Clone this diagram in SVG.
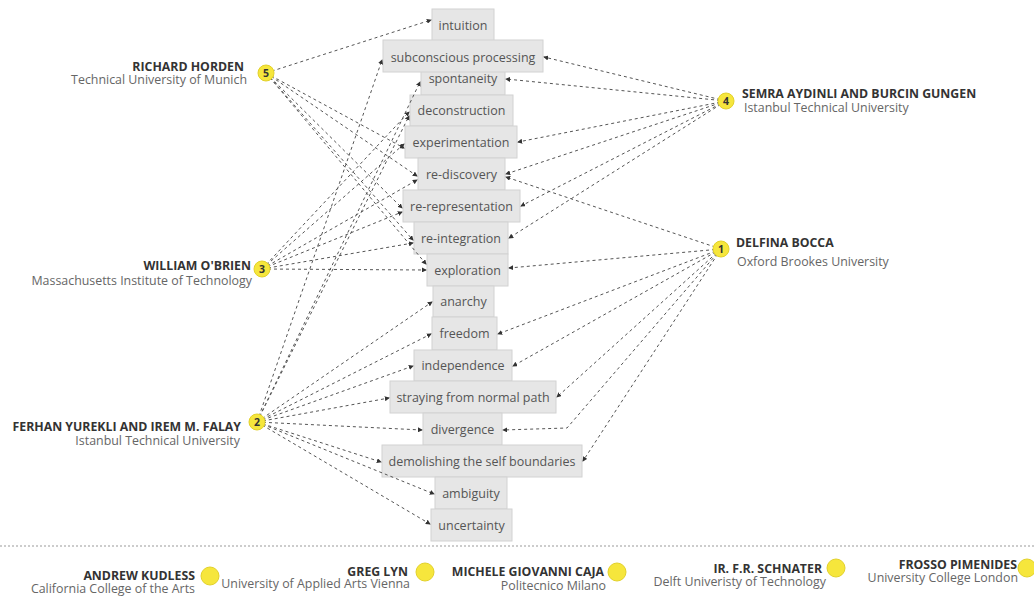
<svg xmlns="http://www.w3.org/2000/svg" width="1034" height="597" viewBox="0 0 1034 597">
  <style>
    .box rect { fill: #e6e6e6; stroke: #d2d2d2; stroke-width: 1; }
    .box text { font-family: "Open Sans", "Liberation Sans", sans-serif; font-size: 12.5px; fill: #555; text-anchor: middle; }
    .link { fill: none; stroke: #555; stroke-width: 1; stroke-dasharray: 3 3; marker-end: url(#arrow); }
    .dot { fill: #f6e63c; stroke: #e2d12a; stroke-width: 1; }
    .num { font-family: "Open Sans", "Liberation Sans", sans-serif; font-size: 10.5px; font-weight: bold; fill: #333; text-anchor: middle; }
    .name { font-family: "Open Sans", "Liberation Sans", sans-serif; font-size: 12.3px; font-weight: bold; fill: #333; }
    .aff { font-family: "Open Sans", "Liberation Sans", sans-serif; font-size: 12.4px; fill: #666; }
    .r { text-anchor: end; }
  </style>
  <defs>
    <marker id="arrow" viewBox="0 0 6 6" refX="5" refY="3" markerWidth="5" markerHeight="5" markerUnits="userSpaceOnUse" orient="auto">
      <path d="M0,0 L6,3 L0,6 z" fill="#333"/>
    </marker>
  </defs>

  <rect width="1034" height="597" fill="#fff"/>

  <!-- concept boxes -->
  <g id="b-intuition" class="box"><rect x="432" y="9" width="62" height="32"/><text x="463" y="29.5">intuition</text></g>
  <g id="b-spontaneity" class="box"><rect x="421" y="62" width="84" height="33"/><text x="463" y="83">spontaneity</text></g>
  <g id="b-subconscious" class="box"><rect x="383" y="40" width="160" height="32"/><text x="463" y="61.5">subconscious processing</text></g>
  <g id="b-deconstruction" class="box"><rect x="410" y="95" width="103" height="31"/><text x="461.5" y="115">deconstruction</text></g>
  <g id="b-experimentation" class="box"><rect x="405" y="126" width="112" height="32"/><text x="461" y="146.5">experimentation</text></g>
  <g id="b-rediscovery" class="box"><rect x="418" y="158" width="87" height="32"/><text x="461.5" y="178.5">re-discovery</text></g>
  <g id="b-rerepresentation" class="box"><rect x="403" y="190" width="117" height="32"/><text x="461.5" y="210.5">re-representation</text></g>
  <g id="b-reintegration" class="box"><rect x="414" y="222" width="94" height="32"/><text x="461" y="242.5">re-integration</text></g>
  <g id="b-exploration" class="box"><rect x="427" y="254" width="81" height="32"/><text x="467.5" y="274.5">exploration</text></g>
  <g id="b-anarchy" class="box"><rect x="433" y="286" width="61" height="31"/><text x="463.5" y="306">anarchy</text></g>
  <g id="b-freedom" class="box"><rect x="432" y="317" width="65" height="33"/><text x="464.5" y="338">freedom</text></g>
  <g id="b-independence" class="box"><rect x="414" y="350" width="98" height="31"/><text x="463" y="370">independence</text></g>
  <g id="b-straying" class="box"><rect x="390" y="381" width="166" height="32"/><text x="473" y="401.5">straying from normal path</text></g>
  <g id="b-divergence" class="box"><rect x="423" y="413" width="79" height="32"/><text x="462.5" y="433.5">divergence</text></g>
  <g id="b-demolishing" class="box"><rect x="382" y="445" width="200" height="32"/><text x="482" y="465.5">demolishing the self boundaries</text></g>
  <g id="b-ambiguity" class="box"><rect x="435" y="477" width="72" height="32"/><text x="471" y="497.5">ambiguity</text></g>
  <g id="b-uncertainty" class="box"><rect x="431" y="509" width="81" height="32"/><text x="471.5" y="529.5">uncertainty</text></g>

  <!-- connectors -->
  <g id="connectors">
    <!-- 5 Richard Horden -->
    <line class="link" x1="266" y1="73" x2="431" y2="20"/>
    <line class="link" x1="266" y1="73" x2="404" y2="148"/>
    <line class="link" x1="266" y1="73" x2="417" y2="176"/>
    <line class="link" x1="266" y1="73" x2="402" y2="208"/>
    <line class="link" x1="266" y1="73" x2="413" y2="240"/>
    <line class="link" x1="266" y1="73" x2="426" y2="264"/>
    <!-- 3 William O'Brien -->
    <line class="link" x1="262" y1="269" x2="409" y2="112"/>
    <line class="link" x1="262" y1="269" x2="404" y2="144"/>
    <line class="link" x1="262" y1="269" x2="417" y2="180"/>
    <line class="link" x1="262" y1="269" x2="402" y2="212"/>
    <line class="link" x1="262" y1="269" x2="413" y2="243"/>
    <line class="link" x1="262" y1="269" x2="426" y2="270"/>
    <!-- 2 Ferhan Yurekli and Irem M. Falay -->
    <line class="link" x1="257" y1="422" x2="382" y2="60"/>
    <line class="link" x1="257" y1="422" x2="420" y2="82"/>
    <line class="link" x1="257" y1="422" x2="409" y2="116"/>
    <line class="link" x1="257" y1="422" x2="432" y2="302"/>
    <line class="link" x1="257" y1="422" x2="431" y2="334"/>
    <line class="link" x1="257" y1="422" x2="413" y2="366"/>
    <line class="link" x1="257" y1="422" x2="389" y2="398"/>
    <line class="link" x1="257" y1="422" x2="422" y2="430"/>
    <line class="link" x1="257" y1="422" x2="381" y2="462"/>
    <line class="link" x1="257" y1="422" x2="434" y2="494"/>
    <line class="link" x1="257" y1="422" x2="430" y2="524"/>
    <!-- 4 Semra Aydinli and Burcin Gungen -->
    <line class="link" x1="726" y1="101" x2="544" y2="57"/>
    <line class="link" x1="726" y1="101" x2="506" y2="79"/>
    <line class="link" x1="726" y1="101" x2="518" y2="142"/>
    <line class="link" x1="726" y1="101" x2="506" y2="174"/>
    <line class="link" x1="726" y1="101" x2="521" y2="206"/>
    <line class="link" x1="726" y1="101" x2="509" y2="238"/>
    <!-- 1 Delfina Bocca -->
    <line class="link" x1="721" y1="249" x2="506" y2="177"/>
    <line class="link" x1="721" y1="249" x2="509" y2="268"/>
    <line class="link" x1="721" y1="249" x2="498" y2="334"/>
    <line class="link" x1="721" y1="249" x2="513" y2="366"/>
    <line class="link" x1="721" y1="249" x2="557" y2="397"/>
    <polyline class="link" points="721,249 567,428 503,430"/>
    <line class="link" x1="721" y1="249" x2="583" y2="461"/>
  </g>

  <!-- people -->
  <g id="n5">
    <circle class="dot" cx="266" cy="73" r="8"/><text class="num" x="266" y="76.5">5</text>
    <text class="name r" x="244" y="71">RICHARD HORDEN</text>
    <text class="aff r" x="247" y="84">Technical University of Munich</text>
  </g>
  <g id="n3">
    <circle class="dot" cx="262" cy="269" r="8"/><text class="num" x="262" y="272.5">3</text>
    <text class="name r" x="251" y="270">WILLIAM O'BRIEN</text>
    <text class="aff r" x="252" y="285">Massachusetts Institute of Technology</text>
  </g>
  <g id="n2">
    <circle class="dot" cx="257" cy="422" r="8"/><text class="num" x="257" y="425.5">2</text>
    <text class="name r" x="241" y="431">FERHAN YUREKLI AND IREM M. FALAY</text>
    <text class="aff r" x="240" y="445">Istanbul Technical University</text>
  </g>
  <g id="n4">
    <circle class="dot" cx="726" cy="101" r="8"/><text class="num" x="726" y="104.5">4</text>
    <text class="name" x="742" y="98">SEMRA AYDINLI AND BURCIN GUNGEN</text>
    <text class="aff" x="744" y="112">Istanbul Technical University</text>
  </g>
  <g id="n1">
    <circle class="dot" cx="721" cy="249" r="8"/><text class="num" x="721" y="252.5">1</text>
    <text class="name" x="736" y="247">DELFINA BOCCA</text>
    <text class="aff" x="737" y="266">Oxford Brookes University</text>
  </g>

  <!-- separator -->
  <line x1="0" y1="546" x2="1034" y2="546" stroke="#999" stroke-width="1" stroke-dasharray="2 2"/>

  <g id="p-kudless">
    <circle class="dot" cx="210" cy="576" r="9"/>
    <text class="name r" x="195" y="580">ANDREW KUDLESS</text>
    <text class="aff r" x="195" y="593">California College of the Arts</text>
  </g>
  <g id="p-lyn">
    <circle class="dot" cx="425" cy="572" r="9"/>
    <text class="name r" x="408" y="576">GREG LYN</text>
    <text class="aff r" x="410" y="588">University of Applied Arts Vienna</text>
  </g>
  <g id="p-caja">
    <circle class="dot" cx="617" cy="572" r="9"/>
    <text class="name r" x="604" y="576">MICHELE GIOVANNI CAJA</text>
    <text class="aff r" x="606" y="590">Politecnico Milano</text>
  </g>
  <g id="p-schnater">
    <circle class="dot" cx="836" cy="568" r="9"/>
    <text class="name r" x="822" y="573">IR. F.R. SCHNATER</text>
    <text class="aff r" x="826" y="586">Delft Univeristy of Technology</text>
  </g>
  <g id="p-pimenides">
    <circle class="dot" cx="1027" cy="568" r="9"/>
    <text class="name r" x="1017" y="569">FROSSO PIMENIDES</text>
    <text class="aff r" x="1018" y="582">University College London</text>
  </g>
</svg>
